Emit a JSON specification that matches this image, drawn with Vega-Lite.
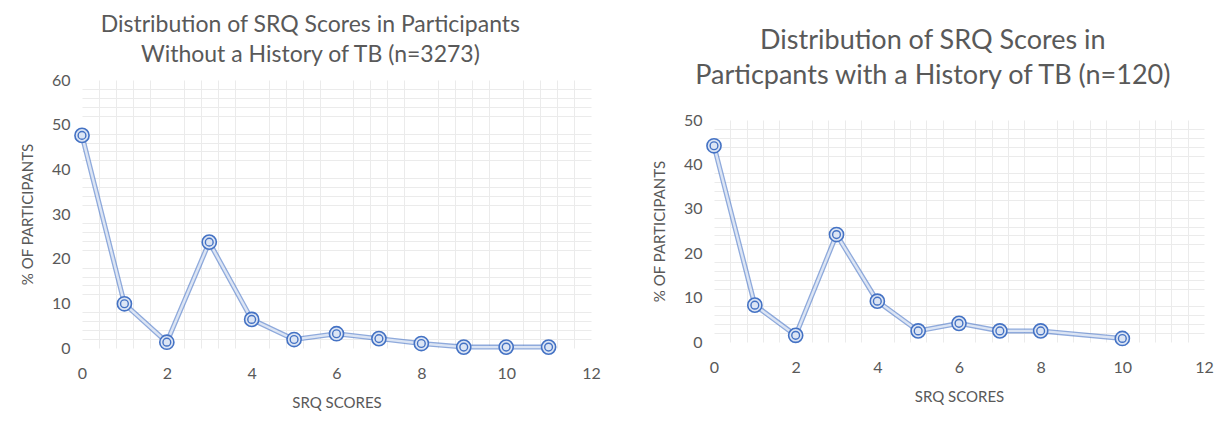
{
  "$schema": "https://vega.github.io/schema/vega-lite/v6.json",
  "background": "white",
  "padding": {"left": 20, "top": 11, "right": 5, "bottom": 5},
  "spacing": 51,
  "center": true,
  "datasets": {
    "without": [
      {"score": 0, "pct": 47.6}, {"score": 1, "pct": 9.9}, {"score": 2, "pct": 1.3},
      {"score": 3, "pct": 23.7}, {"score": 4, "pct": 6.4}, {"score": 5, "pct": 1.9},
      {"score": 6, "pct": 3.2}, {"score": 7, "pct": 2.1}, {"score": 8, "pct": 1.0},
      {"score": 9, "pct": 0.2}, {"score": 10, "pct": 0.2}, {"score": 11, "pct": 0.2}
    ],
    "with": [
      {"score": 0, "pct": 44.2}, {"score": 1, "pct": 8.3}, {"score": 2, "pct": 1.5},
      {"score": 3, "pct": 24.2}, {"score": 4, "pct": 9.2}, {"score": 5, "pct": 2.5},
      {"score": 6, "pct": 4.2}, {"score": 7, "pct": 2.5}, {"score": 8, "pct": 2.5},
      {"score": 10, "pct": 0.8}
    ]
  },
  "config": {
    "font": "Lato",
    "view": {"stroke": null},
    "title": {"font": "Lato", "fontWeight": "normal", "color": "#595959", "subtitleFont": "Lato", "subtitleColor": "#595959", "anchor": "middle", "frame": "bounds"},
    "axis": {"labelFont": "Lato", "titleFont": "Lato", "labelColor": "#595959", "titleColor": "#595959", "labelFontSize": 16, "titleFontSize": 15, "titleFontWeight": "normal", "domain": false, "ticks": false, "tickSize": 0, "gridColor": "#cccccc", "gridWidth": 1, "labelFlush": false}
  },
  "hconcat": [
    {
      "width": 509,
      "height": 268,
      "title": {"text": ["Distribution of SRQ Scores in Participants", "Without a History of TB (n=3273)"], "fontSize": 23, "lineHeight": 30, "offset": 5},
      "data": {"name": "without"},
      "resolve": {"axis": {"x": "independent", "y": "independent"}},
      "layer": [
        {
          "mark": {"type": "line", "color": "#4472c4", "strokeWidth": 5, "opacity": 0},
          "encoding": {
            "x": {"field": "score", "type": "quantitative", "scale": {"domain": [0, 12], "nice": false}, "axis": {"orient": "bottom", "values": [0.4,0.8,1.2,1.6,2.4,2.8,3.2,3.6,4.4,4.8,5.2,5.6,6.4,6.8,7.2,7.6,8.4,8.8,9.2,9.6,10.4,10.8,11.2,11.6], "labels": false, "title": null, "gridColor": "#ebebeb"}},
            "y": {"field": "pct", "type": "quantitative", "scale": {"domain": [0, 60], "nice": false}, "axis": {"orient": "left", "values": [2,4,6,8,12,14,16,18,22,24,26,28,32,34,36,38,42,44,46,48,52,54,56,58], "labels": false, "title": null, "gridColor": "#ebebeb"}}
          }
        },
        {
          "layer": [
            {"mark": {"type": "line", "color": "#4472c4", "strokeWidth": 5, "opacity": 0.6}},
            {"mark": {"type": "line", "color": "#dce5f4", "strokeWidth": 2.4}},
            {"mark": {"type": "point", "shape": "circle", "size": 200, "filled": true, "fill": "#dce5f4", "stroke": "#4472c4", "strokeWidth": 1.6, "opacity": 1}},
            {"mark": {"type": "point", "shape": "circle", "size": 60, "filled": false, "stroke": "#4472c4", "strokeWidth": 1.4, "opacity": 1}}
          ],
          "encoding": {
            "x": {"field": "score", "type": "quantitative", "scale": {"domain": [0, 12], "nice": false}, "axis": {"orient": "bottom", "values": [0,2,4,6,8,10,12], "title": ["SRQ SCORES", ""], "titleLineHeight": 34, "labelPadding": 17, "titlePadding": 14}},
            "y": {"field": "pct", "type": "quantitative", "scale": {"domain": [0, 60], "nice": false}, "axis": {"orient": "left", "values": [0,10,20,30,40,50,60], "title": "% OF PARTICIPANTS", "labelPadding": 12, "titlePadding": 16}}
          }
        }
      ]
    },
    {
      "width": 490,
      "height": 222,
      "title": {"text": " ", "fontSize": 10, "subtitle": ["Distribution of SRQ Scores in", "Particpants with a History of TB (n=120)"], "subtitleFontSize": 27, "subtitleLineHeight": 35, "subtitlePadding": 7, "offset": 23},
      "data": {"name": "with"},
      "resolve": {"axis": {"x": "independent", "y": "independent"}},
      "layer": [
        {
          "mark": {"type": "line", "color": "#4472c4", "strokeWidth": 5, "opacity": 0},
          "encoding": {
            "x": {"field": "score", "type": "quantitative", "scale": {"domain": [0, 12], "nice": false}, "axis": {"orient": "bottom", "values": [0.4,0.8,1.2,1.6,2.4,2.8,3.2,3.6,4.4,4.8,5.2,5.6,6.4,6.8,7.2,7.6,8.4,8.8,9.2,9.6,10.4,10.8,11.2,11.6], "labels": false, "title": null, "gridColor": "#ebebeb"}},
            "y": {"field": "pct", "type": "quantitative", "scale": {"domain": [0, 50], "nice": false}, "axis": {"orient": "left", "values": [2,4,6,8,12,14,16,18,22,24,26,28,32,34,36,38,42,44,46,48], "labels": false, "title": null, "gridColor": "#ebebeb"}}
          }
        },
        {
          "layer": [
            {"mark": {"type": "line", "color": "#4472c4", "strokeWidth": 5, "opacity": 0.6}},
            {"mark": {"type": "line", "color": "#dce5f4", "strokeWidth": 2.4}},
            {"mark": {"type": "point", "shape": "circle", "size": 200, "filled": true, "fill": "#dce5f4", "stroke": "#4472c4", "strokeWidth": 1.6, "opacity": 1}},
            {"mark": {"type": "point", "shape": "circle", "size": 60, "filled": false, "stroke": "#4472c4", "strokeWidth": 1.4, "opacity": 1}}
          ],
          "encoding": {
            "x": {"field": "score", "type": "quantitative", "scale": {"domain": [0, 12], "nice": false}, "axis": {"orient": "bottom", "values": [0,2,4,6,8,10,12], "title": "SRQ SCORES", "labelPadding": 17, "titlePadding": 14}},
            "y": {"field": "pct", "type": "quantitative", "scale": {"domain": [0, 50], "nice": false}, "axis": {"orient": "left", "values": [0,10,20,30,40,50], "title": "% OF PARTICIPANTS", "labelPadding": 12, "titlePadding": 16}}
          }
        }
      ]
    }
  ]
}
